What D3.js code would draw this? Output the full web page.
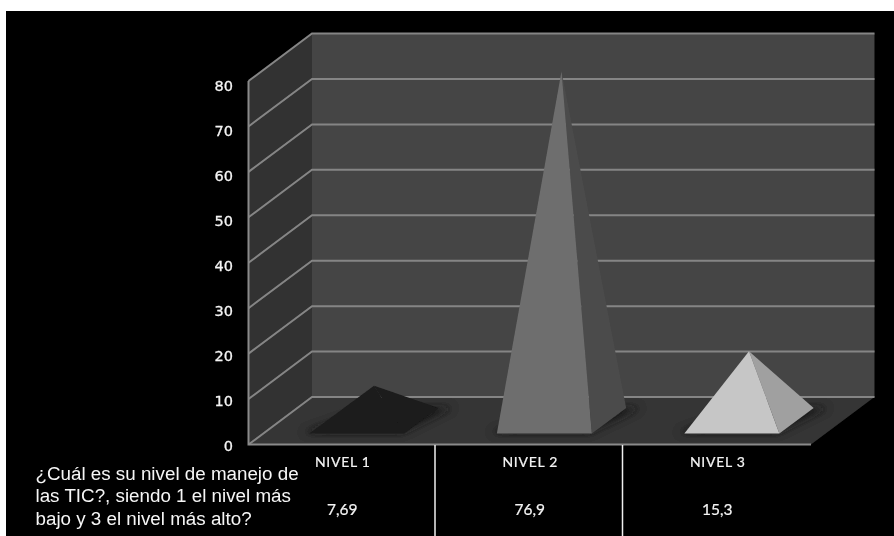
<!DOCTYPE html>
<html>
<head>
<meta charset="utf-8">
<script src="https://cdn.jsdelivr.net/npm/d3@7"></script>
<style>
html, body { margin: 0; padding: 0; background: #fff; }
svg { display: block; }
</style>
</head>
<body>
<svg id="chart" width="894" height="536"></svg>
<script>
const categories = ["NIVEL 1", "NIVEL 2", "NIVEL 3"];
const values = [7.69, 76.9, 15.3];
const valueLabels = ["7,69", "76,9", "15,3"];
const yTicks = [0, 10, 20, 30, 40, 50, 60, 70, 80];
const questionLines = ["¿Cuál es su nivel de manejo de", "las TIC?, siendo 1 el nivel más", "bajo y 3 el nivel más alto?"];
const frontColors = ["#1c1c1c", "#6e6e6e", "#c6c6c6"];
const sideColors = ["#1a1a1a", "#4c4c4c", "#a0a0a0"];

const depth = { x: 63.5, y: -47.5 };
const x = d3.scaleBand().domain(categories).range([248.5, 811]);
const y = d3.scaleLinear().domain([0, 80]).range([444.5, 81]);
// Axis labels sit on a slightly tighter ladder than the gridlines.
const yLabel = d3.scaleLinear().domain([0, 80]).range([451, 90.6]);

// Projects a point of the 3D box: category-axis x, value v, depth d in 0..1.
const project = (px, v, d) => [px + depth.x * d, y(v) + depth.y * d];

const svg = d3.select("#chart");
const defs = svg.append("defs");
defs.append("filter").attr("id", "shadowBlur")
  .attr("x", "-30%").attr("y", "-60%").attr("width", "160%").attr("height", "220%")
  .append("feGaussianBlur").attr("stdDeviation", 4);
defs.append("filter").attr("id", "soft").append("feGaussianBlur").attr("stdDeviation", 0.5);

svg.append("rect").attr("x", 6).attr("y", 11).attr("width", 888).attr("height", 525).attr("fill", "#000");

const plot = svg.append("g").attr("filter", "url(#soft)");
const poly = pts => d3.line()(pts) + "Z";

// Back wall, side wall and floor of the box.
plot.append("path")
  .attr("d", poly([project(248.5, 0, 1), project(811, 0, 1), project(811, 80, 1), project(248.5, 80, 1)]))
  .attr("fill", "#444444");
plot.append("path")
  .attr("d", poly([project(248.5, 0, 0), project(248.5, 0, 1), project(248.5, 80, 1), project(248.5, 80, 0)]))
  .attr("fill", "#303030");
plot.append("path")
  .attr("d", poly([project(248.5, 0, 0), project(811, 0, 0), project(811, 0, 1), project(248.5, 0, 1)]))
  .attr("fill", "#343434");

// Gridlines run along the side wall and the back wall.
plot.append("g").selectAll("path").data(yTicks).join("path")
  .attr("d", v => d3.line()([project(248.5, v, 0), project(248.5, v, 1), project(811, v, 1)]))
  .attr("fill", "none").attr("stroke", "#858585").attr("stroke-width", 2);
plot.append("path")
  .attr("d", d3.line()([project(248.5, 80, 0), project(248.5, 0, 0), project(811, 0, 0)]))
  .attr("fill", "none").attr("stroke", "#8a8a8a").attr("stroke-width", 2);

// Pyramids: base spans the band, from 23% to 77% of the depth.
const half = 47.5, d0 = 0.23, d1 = 0.77;
const pyramids = plot.append("g").selectAll("g")
  .data(categories.map((c, i) => ({ c, v: values[i], front: frontColors[i], side: sideColors[i] })))
  .join("g");
const cx = d => x(d.c) + x.bandwidth() / 2;

pyramids.append("path")
  .attr("d", d => poly([
    project(cx(d) - half - 8, 0, d0 + 0.02),
    project(cx(d) + half - 4, 0, d0 + 0.02),
    project(cx(d) + half + 14, 0, d1 + 0.01),
    project(cx(d) - half + 30, 0, d1 + 0.01)
  ]))
  .attr("fill", "#141414").attr("opacity", 0.85).attr("filter", "url(#shadowBlur)");
pyramids.append("path")
  .attr("d", d => poly([project(cx(d) + half, 0, d0), project(cx(d) + half, 0, d1), project(cx(d), d.v, 0.5)]))
  .attr("fill", d => d.side);
pyramids.append("path")
  .attr("d", d => poly([project(cx(d) - half, 0, d0), project(cx(d) + half, 0, d0), project(cx(d), d.v, 0.5)]))
  .attr("fill", d => d.front);

// Value axis labels.
const text = svg.append("g").attr("filter", "url(#soft)");
text.append("g").selectAll("text").data(yTicks).join("text")
  .attr("x", 233).attr("y", v => yLabel(v))
  .attr("text-anchor", "end").attr("font-family", "'DejaVu Sans'").attr("font-size", 14.5)
  .attr("fill", "#f4f4f4").attr("stroke", "#f4f4f4").attr("stroke-width", 0.3).text(v => v);

// Data table under the floor.
text.append("g").selectAll("line").data(categories.slice(1)).join("line")
  .attr("x1", c => x(c) - 1).attr("x2", c => x(c) - 1).attr("y1", 445).attr("y2", 536)
  .attr("stroke", "#f0f0f0").attr("stroke-width", 1.5);
text.append("g").selectAll("text").data(categories).join("text")
  .attr("x", c => x(c) + x.bandwidth() / 2 + 0.5).attr("y", 467)
  .attr("text-anchor", "middle").attr("font-family", "Lato").attr("font-size", 14).attr("letter-spacing", 0.7)
  .attr("fill", "#f4f4f4").attr("stroke", "#f4f4f4").attr("stroke-width", 0.2).text(c => c);
text.append("g").selectAll("text").data(valueLabels).join("text")
  .attr("x", (d, i) => x(categories[i]) + x.bandwidth() / 2).attr("y", 515)
  .attr("text-anchor", "middle").attr("font-family", "Lato").attr("font-size", 15.5)
  .attr("fill", "#f4f4f4").attr("stroke", "#f4f4f4").attr("stroke-width", 0.2).text(d => d);

// Question in the table's row header.
text.append("g").selectAll("text").data(questionLines).join("text")
  .attr("x", 35.5).attr("y", (d, i) => 480 + i * 22.3)
  .attr("font-family", "'Liberation Sans'").attr("font-size", 18.8)
  .attr("fill", "#f6f6f6").text(d => d);
</script>
</body>
</html>
